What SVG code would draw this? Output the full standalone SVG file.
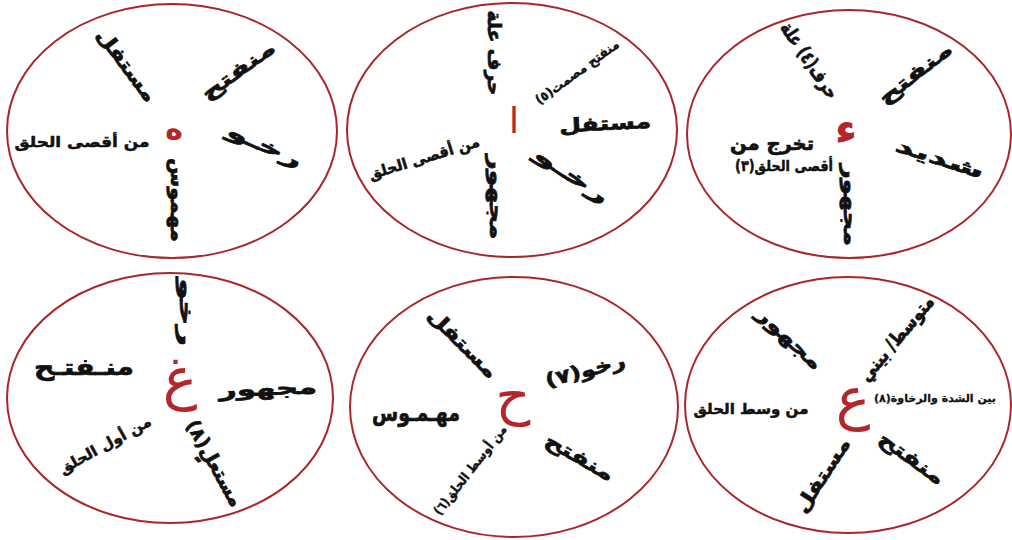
<svg xmlns="http://www.w3.org/2000/svg" width="1012" height="540" viewBox="0 0 1012 540">
<style>
.ring{fill:#fff;stroke:#a8272a;stroke-width:2}
.t{font-family:"DejaVu Sans",sans-serif;font-weight:bold;fill:#111;stroke:#111;stroke-width:0.7;text-anchor:middle;dominant-baseline:central;font-size:19px}
.s{font-size:13px;stroke-width:0.4}
.m{font-size:15px;stroke-width:0.5}
.xs{font-size:11px;stroke-width:0.3}
.xl{font-size:23px}
.l{font-family:"DejaVu Sans",serif;fill:#b3262a;text-anchor:middle;dominant-baseline:central}
</style>
<rect width="1012" height="540" fill="#fff"/>

<g id="circle-ha">
<ellipse class="ring" cx="172" cy="131" rx="165" ry="127"/>
<text class="l" x="174" y="128" font-size="30" font-weight="bold" fill="#d42424">ه</text>
<text class="t m" x="82" y="142" textLength="135" lengthAdjust="spacingAndGlyphs">من أقصى الحلق</text>
<text class="t" transform="translate(127,65) rotate(53)" textLength="86" lengthAdjust="spacingAndGlyphs">مستفل</text>
<text class="t" transform="translate(238,70) rotate(-36)" textLength="86" lengthAdjust="spacingAndGlyphs">منفتح</text>
<text class="t" transform="translate(265,145) rotate(24)" textLength="80" lengthAdjust="spacingAndGlyphs">رخـو</text>
<text class="t" transform="translate(178,200) rotate(90)" textLength="84" lengthAdjust="spacingAndGlyphs">مهموس</text>
</g>

<g id="circle-alif">
<ellipse class="ring" cx="512" cy="130" rx="165" ry="127"/>
<text class="l" x="514" y="120" font-size="36">ا</text>
<text class="t" transform="translate(495,53) rotate(90)" textLength="85" lengthAdjust="spacingAndGlyphs">حرف علة</text>
<text class="t s" transform="translate(577,72) rotate(-36)" textLength="100" lengthAdjust="spacingAndGlyphs">منفتح مصمت(٥)</text>
<text class="t" transform="translate(605,123) rotate(-3)" textLength="92" lengthAdjust="spacingAndGlyphs">مستفل</text>
<text class="t" transform="translate(572,175) rotate(34)" textLength="85" lengthAdjust="spacingAndGlyphs">رخـو</text>
<text class="t m" transform="translate(424,158) rotate(-17)" textLength="115" lengthAdjust="spacingAndGlyphs">من أقصى الحلق</text>
<text class="t" transform="translate(497,197) rotate(90)" textLength="85" lengthAdjust="spacingAndGlyphs">مجهور</text>
</g>

<g id="circle-hamza">
<ellipse class="ring" cx="849" cy="134" rx="162" ry="124"/>
<text class="l" x="846" y="128" font-size="44" font-weight="bold">ء</text>
<text class="t" transform="translate(810,60) rotate(56)" textLength="88" lengthAdjust="spacingAndGlyphs">حرف(٤) علة</text>
<text class="t" transform="translate(915,73) rotate(-38)" textLength="88" lengthAdjust="spacingAndGlyphs">منفتح</text>
<text class="t" transform="translate(940,158) rotate(18)" textLength="92" lengthAdjust="spacingAndGlyphs">شديد</text>
<text class="t" transform="translate(851,205) rotate(90)" textLength="82" lengthAdjust="spacingAndGlyphs">مجهور</text>
<text class="t" x="772" y="143" textLength="84" lengthAdjust="spacingAndGlyphs">تخرج من</text>
<text class="t m" x="784" y="166" textLength="98" lengthAdjust="spacingAndGlyphs">أقصى الحلق(٣)</text>
</g>

<g id="circle-ghain">
<ellipse class="ring" cx="170" cy="398" rx="163" ry="125"/>
<text class="l" x="180" y="378" font-size="58">غ</text>
<text class="t" transform="translate(187,312) rotate(90)" textLength="68" lengthAdjust="spacingAndGlyphs">رخو</text>
<text class="t xl" x="84" y="367" textLength="100" lengthAdjust="spacingAndGlyphs">منـفتـح</text>
<text class="t" transform="translate(268,388) rotate(-2)" textLength="98" lengthAdjust="spacingAndGlyphs">مجهور</text>
<text class="t m" transform="translate(105,445) rotate(-29)" textLength="103" lengthAdjust="spacingAndGlyphs">من أول الحلق</text>
<text class="t" transform="translate(215,463) rotate(61)" textLength="96" lengthAdjust="spacingAndGlyphs">مستعلٍ(٨)</text>
</g>

<g id="circle-ha2">
<ellipse class="ring" cx="514" cy="407" rx="164" ry="130"/>
<text class="l" x="513" y="395" font-size="54">ح</text>
<text class="t" transform="translate(463,343) rotate(45)" textLength="90" lengthAdjust="spacingAndGlyphs">مستفل</text>
<text class="t xl" x="416" y="413" textLength="88" lengthAdjust="spacingAndGlyphs">مهـمـوس</text>
<text class="t s" transform="translate(470,470) rotate(-52)" textLength="110" lengthAdjust="spacingAndGlyphs">من أوسط الحلق(٦)</text>
<text class="t" transform="translate(585,370) rotate(-15)" textLength="82" lengthAdjust="spacingAndGlyphs">رخو(٧)</text>
<text class="t" transform="translate(580,457) rotate(30)" textLength="76" lengthAdjust="spacingAndGlyphs">منفتح</text>
</g>

<g id="circle-ain">
<ellipse class="ring" cx="848" cy="405" rx="163" ry="128"/>
<text class="l" x="853" y="398" font-size="58">ع</text>
<text class="t" transform="translate(790,338) rotate(43)" textLength="82" lengthAdjust="spacingAndGlyphs">مجهور</text>
<text class="t m" x="751" y="409" textLength="115" lengthAdjust="spacingAndGlyphs">من وسط الحلق</text>
<text class="t" transform="translate(822,475) rotate(-57)" textLength="85" lengthAdjust="spacingAndGlyphs">مستفل</text>
<text class="t" transform="translate(896,338) rotate(-50)" textLength="105" lengthAdjust="spacingAndGlyphs">متوسط/ بيني</text>
<text class="t xs" x="935" y="398">بين الشدة والرخاوة(٨)</text>
<text class="t" transform="translate(912,458) rotate(36)" textLength="76" lengthAdjust="spacingAndGlyphs">منفتح</text>
</g>
</svg>
